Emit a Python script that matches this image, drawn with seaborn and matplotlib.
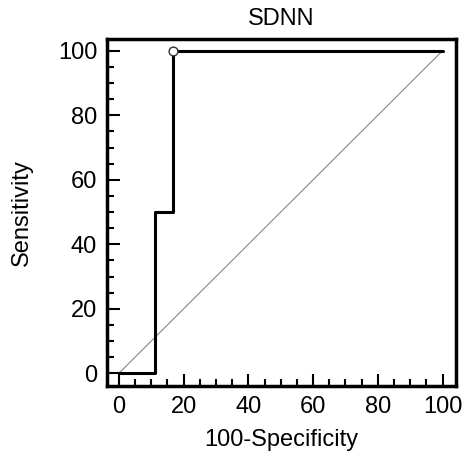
import numpy as np
import pandas as pd
import matplotlib
matplotlib.use("Agg")
import matplotlib.pyplot as plt
import seaborn as sns
from matplotlib.ticker import MultipleLocator

# ROC points (100-Specificity, Sensitivity)
fpr = [0, 11.1, 11.1, 16.7, 16.7, 100]
tpr = [0, 0, 50, 50, 100, 100]
diag = [0, 100]
cut_x = [16.7]
cut_y = [100]

sns.set_style("white")
plt.rcParams['font.family'] = ['Liberation Sans', 'DejaVu Sans']
plt.rcParams['text.color'] = 'black'
plt.rcParams['axes.labelcolor'] = 'black'
plt.rcParams['xtick.color'] = 'black'
plt.rcParams['ytick.color'] = 'black'

fig = plt.figure(figsize=(4.65, 4.57), dpi=100)
ax = fig.add_axes([0.230, 0.155, 0.751, 0.760])

df = pd.DataFrame({'x': fpr, 'y': tpr})
sns.lineplot(x=diag, y=diag, ax=ax, color='#777777', linewidth=0.7, estimator=None)
sns.lineplot(data=df, x='x', y='y', sort=False, estimator=None, ax=ax,
             color='black', linewidth=2.2)
sns.scatterplot(x=cut_x, y=cut_y, ax=ax, s=40, facecolor='white', edgecolor='#333333',
                linewidth=1.0, zorder=5)

ax.set_xlim(-3.7, 104.2)
ax.set_ylim(-4, 103.7)
ax.xaxis.set_major_locator(MultipleLocator(20))
ax.xaxis.set_minor_locator(MultipleLocator(5))
ax.yaxis.set_major_locator(MultipleLocator(20))
ax.yaxis.set_minor_locator(MultipleLocator(5))
ax.tick_params(which='major', direction='in', length=9, width=1.5, labelsize=17,
               bottom=True, left=True, top=False, right=False, pad=7)
ax.tick_params(which='minor', direction='in', length=5, width=1.5,
               bottom=True, left=True, top=False, right=False)
for sp in ax.spines.values():
    sp.set_linewidth(2.5)
    sp.set_color('black')

ax.set_title('SDNN', fontsize=17, pad=10)
ax.set_xlabel('100-Specificity', fontsize=17, labelpad=8)
ax.set_ylabel('Sensitivity', fontsize=17, labelpad=18)

fig.savefig('out.png', dpi=100)
